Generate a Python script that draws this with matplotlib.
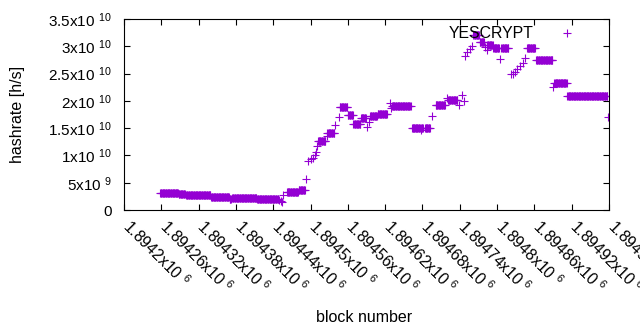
import numpy as np
import matplotlib
matplotlib.use("Agg")
import matplotlib.pyplot as plt
from matplotlib.transforms import ScaledTranslation

plt.rcParams['font.family'] = ['Liberation Sans', 'DejaVu Sans']
plt.rcParams['mathtext.fontset'] = 'custom'
plt.rcParams['mathtext.rm'] = 'Liberation Sans'
plt.rcParams['mathtext.it'] = 'Liberation Sans:italic'
plt.rcParams['mathtext.bf'] = 'Liberation Sans:bold'

# Piecewise-constant readings: first block, last block, hashrate (1e9 h/s)
seg_first = [1894258, 1894288, 1894300, 1894340, 1894370, 1894374, 1894414,
             1894449, 1894452, 1894454, 1894456, 1894462, 1894481, 1894493,
             1894496, 1894501, 1894504, 1894507, 1894509, 1894510, 1894512,
             1894526, 1894527, 1894540, 1894545, 1894547, 1894560, 1894569,
             1894581, 1894590, 1894594, 1894596, 1894608, 1894627, 1894629,
             1894631, 1894663, 1894678, 1894679, 1894684, 1894696, 1894701,
             1894720, 1894721, 1894738, 1894743, 1894746, 1894748, 1894752,
             1894756, 1894760, 1894762, 1894772, 1894781, 1894783, 1894784,
             1894794, 1894805, 1894807, 1894823, 1894826, 1894829, 1894832,
             1894837, 1894841, 1894845, 1894848, 1894863, 1894890, 1894892,
             1894913, 1894979]
seg_last = [1894287, 1894298, 1894339, 1894369, 1894372, 1894413, 1894448,
            1894449, 1894452, 1894454, 1894456, 1894480, 1894491, 1894493,
            1894496, 1894501, 1894504, 1894507, 1894509, 1894510, 1894524,
            1894526, 1894538, 1894540, 1894545, 1894559, 1894568, 1894580,
            1894589, 1894590, 1894594, 1894607, 1894623, 1894627, 1894629,
            1894661, 1894677, 1894678, 1894681, 1894692, 1894696, 1894716,
            1894720, 1894736, 1894738, 1894743, 1894746, 1894748, 1894752,
            1894756, 1894760, 1894771, 1894779, 1894781, 1894783, 1894793,
            1894803, 1894805, 1894818, 1894823, 1894826, 1894829, 1894832,
            1894837, 1894841, 1894845, 1894861, 1894889, 1894890, 1894912,
            1894977, 1894979]
seg_value = [3.1, 2.9, 2.7, 2.4, 2.0, 2.2, 2.0,
             1.8, 1.6, 1.4, 2.8, 3.25, 3.65, 5.7,
             9.0, 9.3, 9.6, 10.0, 10.7, 11.7, 12.6,
             13.6, 14.2, 15.6, 17.1, 18.8, 17.4, 15.8,
             16.8, 15.3, 16.2, 17.2, 17.6, 19.6, 18.6,
             19.0, 15.1, 14.7, 15.1, 15.0, 17.2, 19.2,
             20.6, 20.2, 19.2, 21.1, 20.0, 28.2, 29.0,
             29.5, 30.0, 32.1, 30.7, 29.9, 29.4, 30.2,
             29.7, 27.6, 29.6, 24.9, 25.0, 25.3, 25.8,
             26.4, 27.0, 27.8, 29.6, 27.4, 22.6, 23.2,
             20.8, 17.1]

x_ticks = [1894200 + 60 * i for i in range(14)]
y_ticks = [0, 5e9, 1e10, 1.5e10, 2e10, 2.5e10, 3e10, 3.5e10]

blocks = np.concatenate([np.arange(a, b + 1) for a, b in zip(seg_first, seg_last)])
hashrate = np.concatenate([np.full(b - a + 1, v * 1e9)
                           for a, b, v in zip(seg_first, seg_last, seg_value)])

def ylab(v):
    if v == 0:
        return "0"
    e = int(np.floor(np.log10(v)))
    m = v / 10 ** e
    return f"{m:g}x10 $^{{{e}}}$"

def xlab(v):
    return f"{v / 1e6:g}x10 $^{{6}}$"

fig = plt.figure(figsize=(6.4, 3.3), dpi=100)
ax = fig.add_axes([124 / 640, 120 / 330, 485 / 640, 191 / 330])

color = '#9400D3'
ax.plot(blocks, hashrate, linestyle='none', marker='+', color=color,
        markersize=6.0, markeredgewidth=0.8, label='YESCRYPT')

ax.set_xlim(1894200, 1894980)
ax.set_ylim(0, 3.5e10)

ax.tick_params(direction='in', length=4, width=0.8, top=True, right=True,
               colors='black')
ax.tick_params(axis='y', pad=9)
ax.tick_params(axis='x', pad=13)

ax.set_yticks(y_ticks)
ax.set_yticklabels([ylab(v) for v in y_ticks], fontsize=11)
ax.set_xticks(x_ticks)
ax.set_xticklabels([xlab(v) for v in x_ticks], fontsize=11.3, rotation=-45,
                   ha='left', va='baseline', rotation_mode='anchor')
for lbl in ax.get_xticklabels():
    lbl.set_transform(lbl.get_transform() +
                      ScaledTranslation(-3 / 100, 0, fig.dpi_scale_trans))

for s in ax.spines.values():
    s.set_linewidth(0.8)

ax.set_xlabel('block number', fontsize=11.5)
ax.set_ylabel('hashrate [h/s]', fontsize=11.5)
ax.xaxis.set_label_coords(0.495, -0.521)
ax.yaxis.set_label_coords(-0.204, 0.5)

ax.legend(loc='upper right', bbox_to_anchor=(579 / 640, 0.9197),
          bbox_transform=fig.transFigure, frameon=False, markerfirst=False,
          numpoints=1, fontsize=11.4, handlelength=1.5, handletextpad=1.375,
          borderpad=0, borderaxespad=0)

fig.savefig('out.png', dpi=100)
